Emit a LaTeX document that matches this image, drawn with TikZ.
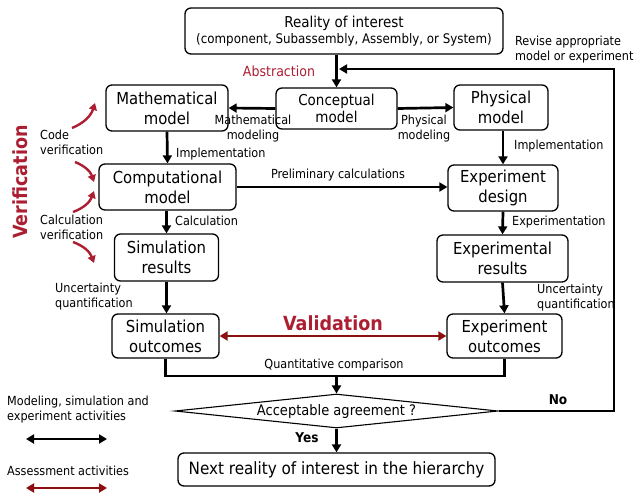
\documentclass[tikz,border=0pt]{standalone}
\usepackage{fontspec}
\setmainfont{DejaVu Sans Condensed}
\usetikzlibrary{arrows.meta,shapes.geometric}
\definecolor{vred}{RGB}{172,30,50}
\definecolor{dred}{RGB}{140,16,16}
\tikzset{
  box/.style={draw, rounded corners=6pt, line width=1.3pt, align=center, inner sep=1pt, font=\fontsize{16.5}{20}\selectfont},
  arr/.style={line width=2.7pt, -{Triangle[length=8pt,width=9pt]}},
  plain/.style={line width=2.7pt},
  darr/.style={line width=2.7pt, {Triangle[length=8pt,width=9pt]}-{Triangle[length=8pt,width=9pt]}},
  rarr/.style={darr, color=dred},
  varr/.style={line width=2.4pt, color=vred, -{Triangle[length=7pt,width=8pt]}},
  lbl/.style={font=\fontsize{12.5}{15}\selectfont, inner sep=0pt},
}
\begin{document}
\begin{tikzpicture}[x=1pt,y=-1pt]
\useasboundingbox (0,0) rectangle (634,495);
% nodes
\node[box, minimum width=318, minimum height=46, font=\fontsize{15}{17}\selectfont] (real) at (344,31) {Reality of interest\\[-1pt]{\fontsize{13.2}{15}\selectfont(component, Subassembly, Assembly, or System)}};
\node[box, minimum width=121, minimum height=41, font=\fontsize{15}{17.5}\selectfont] (conc) at (336.5,108.5) {Conceptual\\model};
\node[box, minimum width=122, minimum height=46] (math) at (167,108) {Mathematical\\model};
\node[box, minimum width=94, minimum height=45] (phys) at (501,107.5) {Physical\\model};
\node[box, minimum width=137, minimum height=46] (comp) at (167.5,187) {Computational\\model};
\node[box, minimum width=110, minimum height=46] (expd) at (503,188) {Experiment\\design};
\node[box, minimum width=104, minimum height=47] (simr) at (166.5,257.5) {Simulation\\results};
\node[box, minimum width=131, minimum height=47] (expr) at (502.5,258.5) {Experimental\\results};
\node[box, minimum width=107, minimum height=44] (simo) at (165.5,336) {Simulation\\outcomes};
\node[box, minimum width=115, minimum height=44] (expo) at (504.5,336) {Experiment\\outcomes};
\node[draw, shape=diamond, aspect=9.5, minimum width=323, minimum height=34, inner sep=0pt, line width=1.1pt, font=\fontsize{14.5}{16}\selectfont] (dia) at (336.5,411) {Acceptable agreement ?};
\node[box, minimum width=317, minimum height=33, font=\fontsize{16.9}{19}\selectfont] (next) at (336.5,469.5) {Next reality of interest in the hierarchy};
% labels
\node[lbl, text=vred, font=\fontsize{14}{16}\selectfont] (abs) at (279,71) {Abstraction};
\node[lbl, align=center] (mmod) at (253,129) {Mathematical\\modeling};
\node[lbl, align=center] (pmod) at (424,129) {Physical\\modeling};
\node[lbl, anchor=west] (imp1) at (176,154) {Implementation};
\node[lbl, anchor=west] (imp2) at (514,146) {Implementation};
\node[lbl] (prel) at (338,175) {Preliminary calculations};
\node[lbl, anchor=west] (calc) at (175,221) {Calculation};
\node[lbl, anchor=west] (expt) at (512,222) {Experimentation};
\node[lbl, anchor=west, align=left] (uq1) at (55,297) {Uncertainty\\quantification};
\node[lbl, anchor=west, align=left] (uq2) at (537,298) {Uncertainty\\quantification};
\node[lbl, text=vred, font=\bfseries\fontsize{19.5}{22}\selectfont] (val) at (333,323) {Validation};
\node[lbl] (qcmp) at (334,365) {Quantitative comparison};
\node[lbl, font=\bfseries\fontsize{13.5}{15}\selectfont] (no) at (558,400) {No};
\node[lbl, font=\bfseries\fontsize{13.5}{15}\selectfont] (yes) at (307,438) {Yes};
\node[lbl, anchor=west, align=left] (rev) at (515,50) {Revise appropriate\\model or experiment};
\node[lbl, anchor=west, align=left] (cver) at (40,142) {Code\\verification};
\node[lbl, anchor=west, align=left] (calv) at (40,227) {Calculation\\verification};
\node[lbl, text=vred, rotate=90, font=\bfseries\fontsize{19.5}{22}\selectfont] (ver) at (20,182) {Verification};
\node[lbl, anchor=west, align=left] (leg1) at (7,410) {Modeling, simulation and\\experiment activities};
\node[lbl, anchor=west] (leg2) at (7,471) {Assessment activities};
% coordinates
\coordinate (qc) at (336.5,376);
\coordinate (rv) at (614,69);
\coordinate (rvend) at (339,69);
\coordinate (l1a) at (26,439);
\coordinate (l1b) at (107,439);
\coordinate (l2a) at (26,488);
\coordinate (l2b) at (107,488);
\coordinate (v1a) at (72,128); \coordinate (v1b) at (95,103);
\coordinate (v2a) at (75,162); \coordinate (v2b) at (94,182);
\coordinate (v3a) at (73,212); \coordinate (v3b) at (94,191);
\coordinate (v4a) at (73,242); \coordinate (v4b) at (94,263);
% connectors
\draw[arr] (conc.north |- real.south) -- (conc.north);
\draw[arr] (conc.west) -- (math.east);
\draw[arr] (conc.east) -- (phys.west);
\draw[arr] (math.south) -- (comp.north);
\draw[arr] (expd.north |- phys.south) -- (expd.north);
\draw[arr] (comp.east) -- (expd.west |- comp.east);
\draw[arr] (simr.north |- comp.south) -- (simr.north);
\draw[arr] (expd.south) -- (expr.north);
\draw[arr] (simr.south) -- (simr.south |- simo.north);
\draw[arr] (expr.south) -- (expo.north);
\draw[rarr] (simo.east) -- (expo.west);
\draw[plain] (simo.south) |- (qc) -| (expo.south);
\draw[arr] (qc) -- (dia.north);
\draw[arr] (dia.east) -| (rv) -- (rvend);
\draw[arr] (dia.south) -- (next.north);
\draw[darr] (l1a) -- (l1b);
\draw[rarr] (l2a) -- (l2b);
\draw[varr] (v1a) to[bend right=25] (v1b);
\draw[varr] (v2a) to[bend left=25] (v2b);
\draw[varr] (v3a) to[bend right=25] (v3b);
\draw[varr] (v4a) to[bend left=25] (v4b);
\end{tikzpicture}
\end{document}
